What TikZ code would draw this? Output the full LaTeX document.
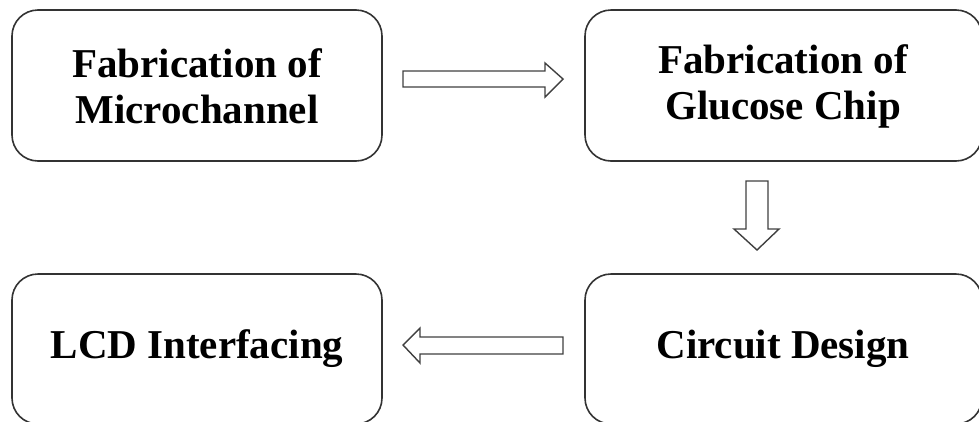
\documentclass[tikz,border=0pt]{standalone}
\usepackage{fontspec}
\setmainfont{Liberation Serif}
\begin{document}
\begin{tikzpicture}[x=1pt,y=-1pt,
  stagebox/.style={draw=black!80,line width=1.6pt,rounded corners=26pt},
  stagetext/.style={font=\fontsize{41}{46}\selectfont\bfseries,align=center,text=black},
  blockarrow/.style={draw=black!75,line width=1.4pt,fill=white,line join=miter}]
\useasboundingbox (0,0) rectangle (979,421);
% boxes
\draw[stagebox] (12,10) rectangle (382,161);
\draw[stagebox] (585,10) rectangle (982,161);
\draw[stagebox] (12,274) rectangle (382,424);
\draw[stagebox] (585,274) rectangle (982,424);
% texts
\node[stagetext] (micro) at (197,86) {Fabrication of\\Microchannel};
\node[stagetext] (chip) at (783,86) {Fabrication of\\Glucose Chip};
\node[stagetext] (lcd) at (197,349) {LCD Interfacing};
\node[stagetext] (circ) at (783,349) {Circuit Design};
% block arrows
\draw[blockarrow] (403,71) -- (545,71) -- (545,63) -- (563,79) -- (545,97) -- (545,87) -- (403,87) -- cycle;
\draw[blockarrow] (746,181) -- (768,181) -- (768,229) -- (779,229) -- (757,250) -- (734,229) -- (746,229) -- cycle;
\draw[blockarrow] (563,337) -- (420,337) -- (420,328) -- (403,345) -- (420,363) -- (420,354) -- (563,354) -- cycle;
\end{tikzpicture}
\end{document}
